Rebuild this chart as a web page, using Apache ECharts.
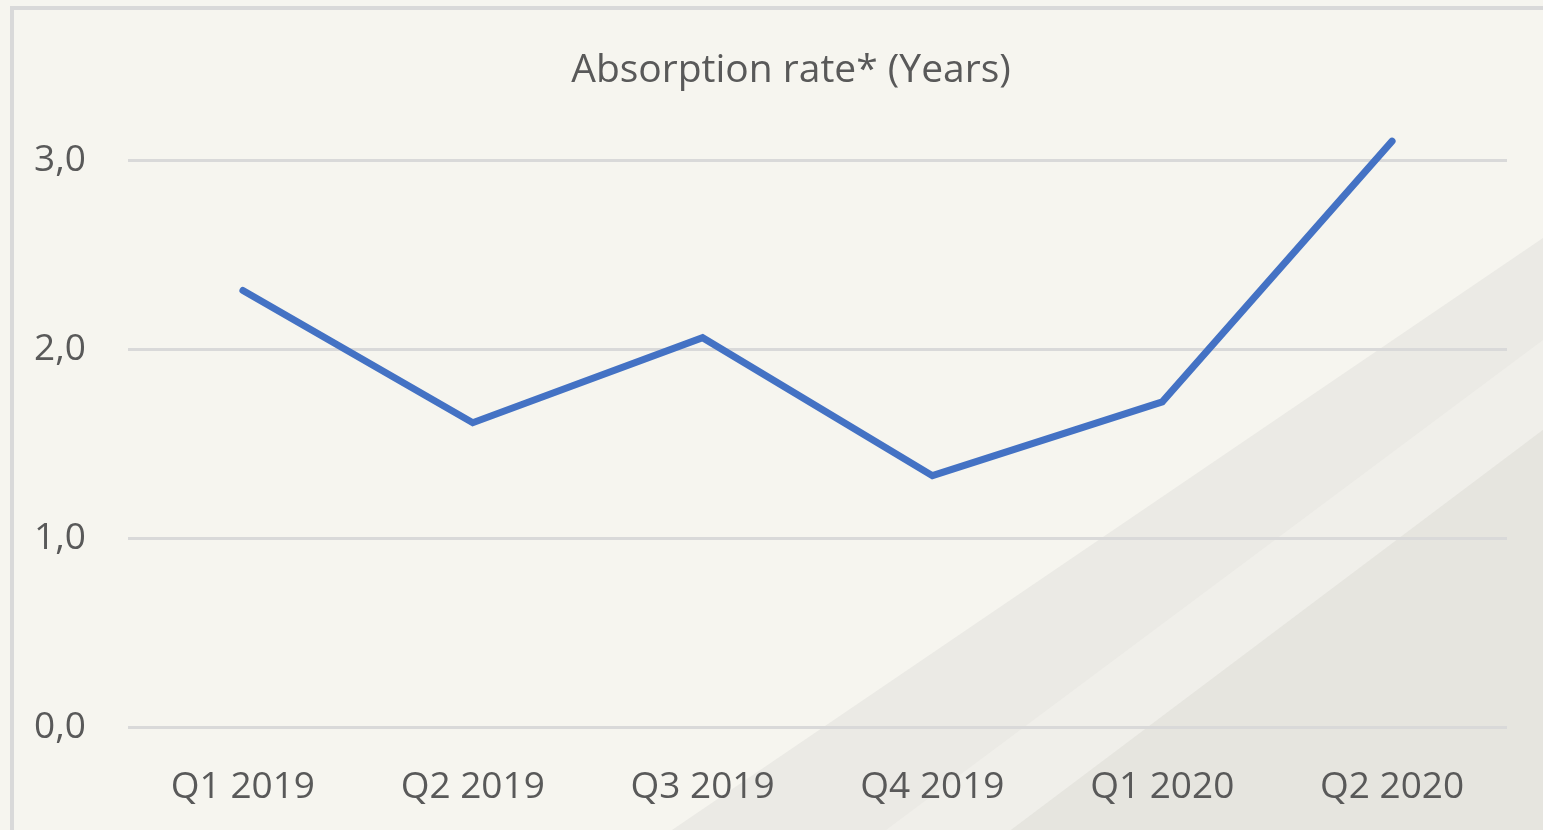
<!DOCTYPE html>
<html>
<head>
<meta charset="utf-8">
<script src="https://cdn.jsdelivr.net/npm/echarts@6/dist/echarts.min.js"></script>
<style>
  html, body { margin: 0; padding: 0; background: #f6f5ef; }
  #chart { width: 1543px; height: 830px; }
</style>
</head>
<body>
<div id="chart"></div>
<script>
const quarters = ['Q1 2019', 'Q2 2019', 'Q3 2019', 'Q4 2019', 'Q1 2020', 'Q2 2020'];
const absorption = [2.31, 1.61, 2.06, 1.33, 1.72, 3.1];
const yTicks = { min: 0, max: 3, interval: 1 };

const textColor = '#595959';
const font = 'Open Sans';

const chart = echarts.init(document.getElementById('chart'));

chart.setOption({
    backgroundColor: '#f6f5ef',
    animation: false,
    // background decoration (frame + diagonal bands)
    graphic: [
        {
            type: 'polygon', z: -10, silent: true,
            shape: { points: [[1543, 238], [1543, 830], [672, 830]] },
            style: { fill: '#ebeae5' }
        },
        {
            type: 'polygon', z: -9, silent: true,
            shape: { points: [[1543, 340], [1543, 430], [1011, 830], [886, 830]] },
            style: { fill: '#f0efea' }
        },
        {
            type: 'polygon', z: -9, silent: true,
            shape: { points: [[1543, 430], [1543, 830], [1011, 830]] },
            style: { fill: '#e6e5df' }
        },
        {
            type: 'rect', z: -8, silent: true,
            shape: { x: 12, y: 8, width: 1700, height: 1000 },
            style: { fill: 'none', stroke: '#d9d9d9', lineWidth: 4 }
        }
    ],
    title: {
        text: 'Absorption rate* (Years)',
        left: 786,
        top: 46,
        textAlign: 'center',
        textStyle: { color: textColor, fontFamily: font, fontSize: 39, fontWeight: 'normal' }
    },
    grid: { left: 128, right: 36, top: 160, bottom: 103, containLabel: false },
    xAxis: {
        type: 'category',
        data: quarters,
        boundaryGap: true,
        axisLine: { show: false },
        axisTick: { show: false },
        axisLabel: { color: textColor, fontFamily: font, fontSize: 37, margin: 42 }
    },
    yAxis: {
        type: 'value',
        min: yTicks.min,
        max: yTicks.max,
        interval: yTicks.interval,
        axisLine: { show: false },
        axisTick: { show: false },
        axisLabel: {
            color: textColor, fontFamily: font, fontSize: 37, margin: 42,
            formatter: v => v.toFixed(1).replace('.', ',')
        },
        splitLine: { lineStyle: { color: '#d9d9d9', width: 3 } }
    },
    series: [{
        type: 'line',
        data: absorption,
        clip: false,
        symbol: 'none',
        lineStyle: { color: '#4472c4', width: 7, cap: 'round', join: 'miter' }
    }]
});
</script>
</body>
</html>
